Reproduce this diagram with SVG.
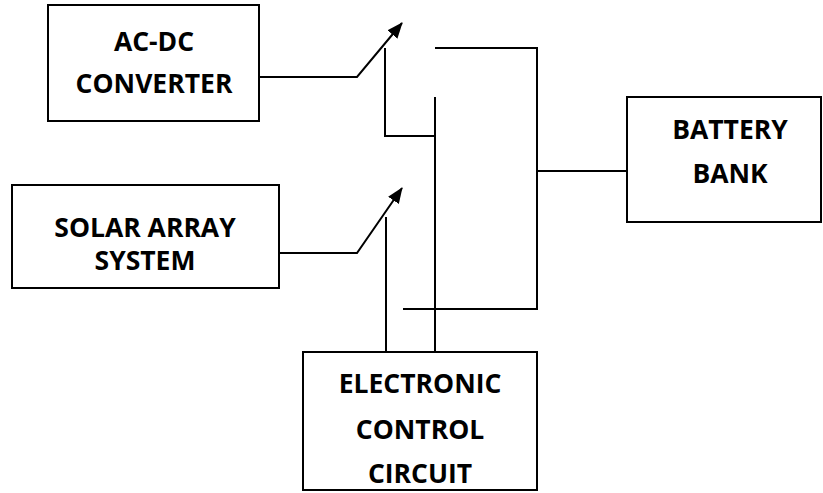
<svg xmlns="http://www.w3.org/2000/svg" width="823" height="493" viewBox="0 0 823 493">
<style>
.box{fill:#fff;stroke:#000;stroke-width:2}
.w{fill:none;stroke:#000;stroke-width:2}
.t{font-family:"Open Sans","Liberation Sans",sans-serif;font-weight:bold;font-size:26.5px;text-anchor:middle;fill:#000}
</style>
<defs>
<marker id="ah" viewBox="0 0 16 13" refX="15" refY="6.5" markerWidth="16" markerHeight="13" markerUnits="userSpaceOnUse" orient="auto">
<path d="M0,0 L16,6.5 L0,13 z" fill="#000"/>
</marker>
</defs>
<g id="connectors">
<polyline class="w" points="259,77 357,77 402,23" marker-end="url(#ah)"/>
<polyline class="w" points="279,253 357,253 402,188" marker-end="url(#ah)"/>
<polyline class="w" points="385,48 385,136 435,136"/>
<line class="w" x1="435" y1="97" x2="435" y2="352"/>
<polyline class="w" points="435,48 537,48 537,309 403,309"/>
<line class="w" x1="537" y1="171" x2="627" y2="171"/>
<line class="w" x1="386" y1="217" x2="386" y2="352"/>
</g>
<g id="acdc">
<rect class="box" x="48" y="5" width="211" height="116"/>
<text class="t" x="154" y="51">AC-DC</text>
<text class="t" x="154" y="93">CONVERTER</text>
</g>
<g id="solar">
<rect class="box" x="12" y="185" width="267" height="103"/>
<text class="t" x="145" y="237">SOLAR ARRAY</text>
<text class="t" x="145" y="270">SYSTEM</text>
</g>
<g id="battery">
<rect class="box" x="627" y="97" width="194" height="125"/>
<text class="t" x="730" y="139">BATTERY</text>
<text class="t" x="730" y="183">BANK</text>
</g>
<g id="ecc">
<rect class="box" x="303" y="352" width="234" height="138"/>
<text class="t" x="420" y="393">ELECTRONIC</text>
<text class="t" x="420" y="439">CONTROL</text>
<text class="t" x="420" y="483">CIRCUIT</text>
</g>
</svg>
